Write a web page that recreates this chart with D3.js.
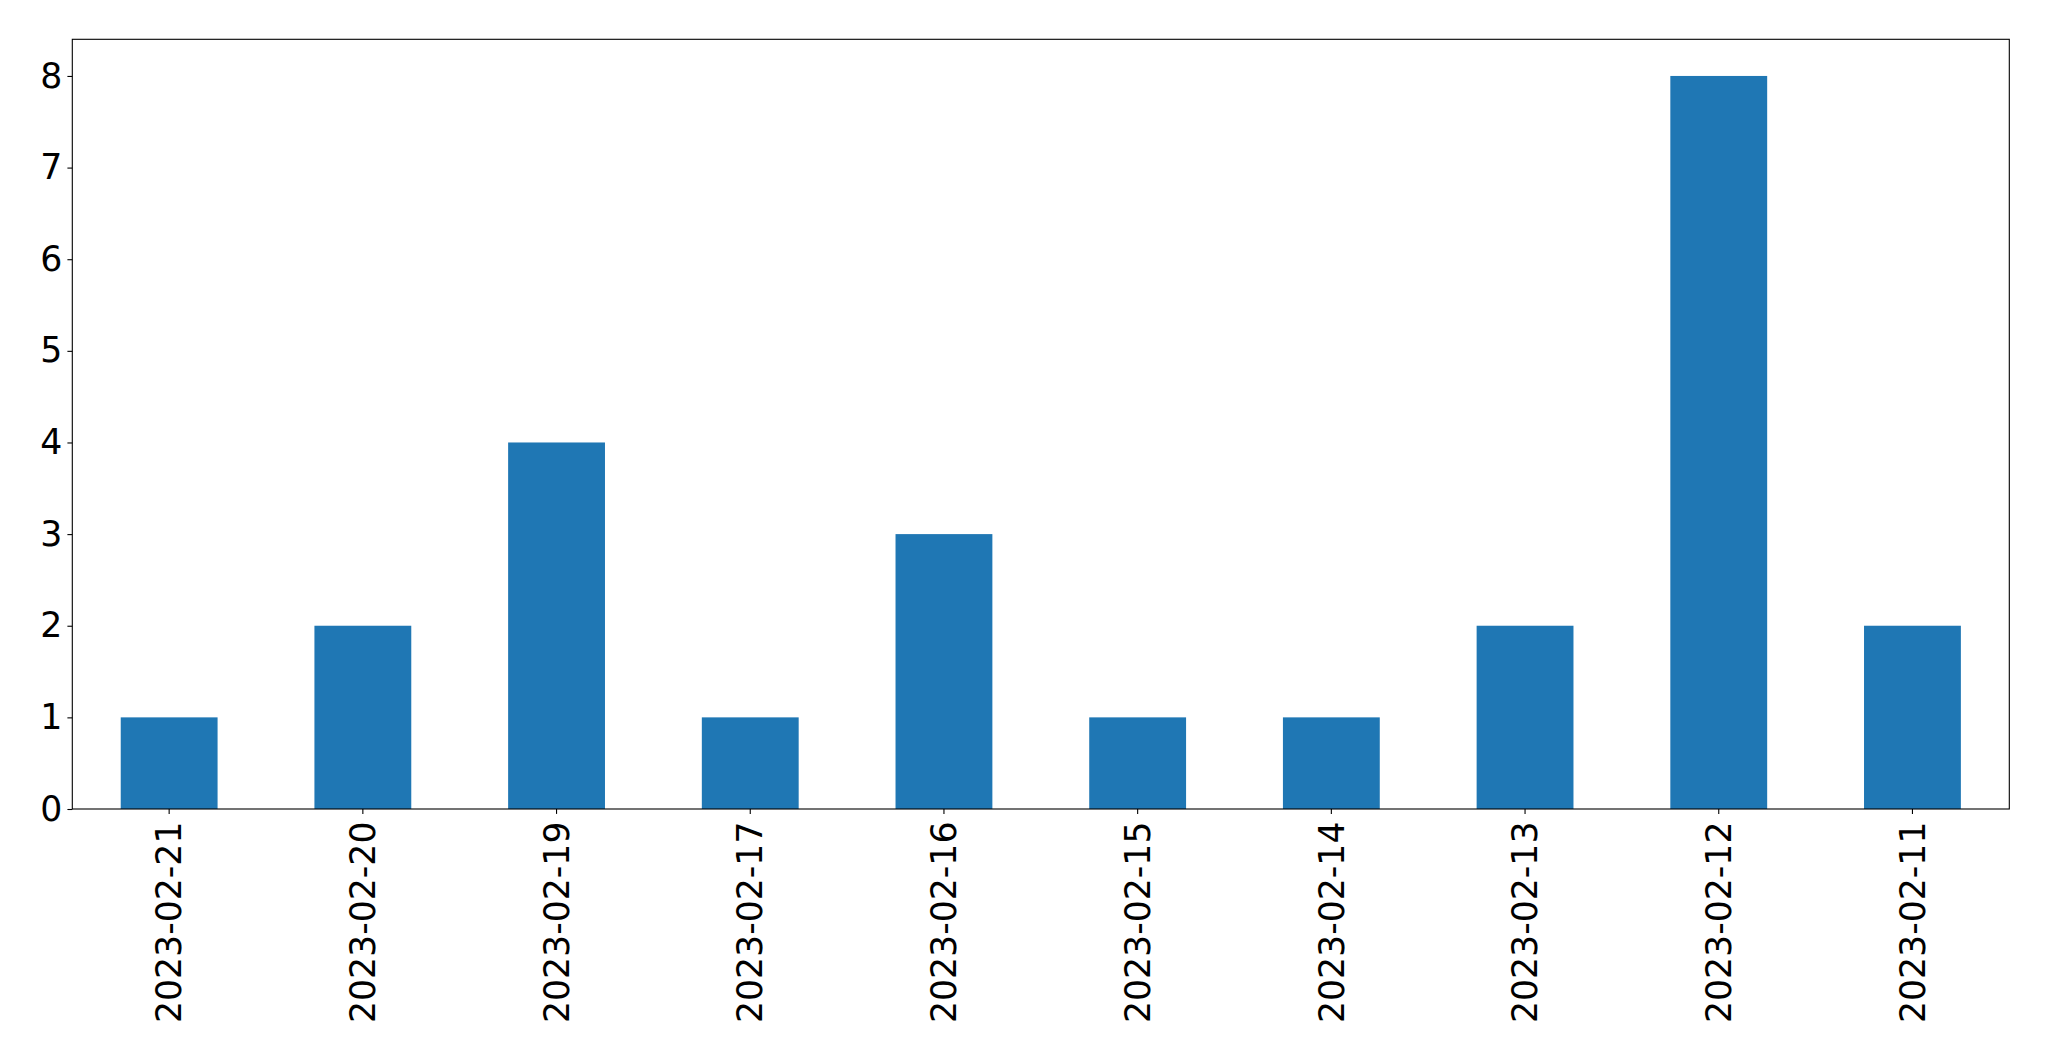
<!DOCTYPE html>
<html><head><meta charset="utf-8">
<script src="https://cdn.jsdelivr.net/npm/d3@7"></script>
<style>body{margin:0;background:#fff}svg{display:block}</style>
</head><body>
<script>
const categories = ["2023-02-21","2023-02-20","2023-02-19","2023-02-17","2023-02-16","2023-02-15","2023-02-14","2023-02-13","2023-02-12","2023-02-11"];
const values = [1,2,4,1,3,1,1,2,8,2];
const yTicks = [0,1,2,3,4,5,6,7,8];

const W = 2049, H = 1061;
const m = {left:72.3, top:39.3, right:2049-2009.3, bottom:1061-809};
const svg = d3.select("body").append("svg").attr("width",W).attr("height",H);
const x = d3.scaleBand().domain(categories).range([m.left, W-m.right]).paddingInner(0.5).paddingOuter(0.25);
const y = d3.scaleLinear().domain([0,8.4]).range([H-m.bottom, m.top]);

svg.append("g").selectAll("rect").data(values).join("rect")
  .attr("x",(d,i)=>x(categories[i])).attr("width",x.bandwidth())
  .attr("y",d=>y(d)).attr("height",d=>y(0)-y(d)).attr("fill","#1f77b4");

const font = "'DejaVu Sans', sans-serif";
const fs = 34.7;
const ya = svg.append("g").attr("transform",`translate(${m.left},0)`)
  .call(d3.axisLeft(y).tickValues(yTicks).tickFormat(d3.format("d")).tickSize(4.9).tickPadding(5));
ya.select(".domain").remove();
ya.selectAll("line").attr("stroke","#000").attr("stroke-width",1.1);
ya.selectAll("text").attr("font-family",font).attr("font-size",fs).attr("fill","#000");

const xa = svg.append("g").attr("transform",`translate(0,${H-m.bottom})`)
  .call(d3.axisBottom(x).tickSize(4.9).tickPadding(7));
xa.select(".domain").remove();
xa.selectAll("line").attr("stroke","#000").attr("stroke-width",1.1);
xa.selectAll("text").attr("font-family",font).attr("font-size",fs).attr("fill","#000")
  .attr("transform","rotate(-90)").attr("text-anchor","end").attr("x",-12.5).attr("y",0).attr("dy","0.35em");

svg.append("rect").attr("x",m.left).attr("y",m.top).attr("width",W-m.right-m.left).attr("height",H-m.bottom-m.top)
  .attr("fill","none").attr("stroke","#000").attr("stroke-width",1.1);
</script>
</body></html>
